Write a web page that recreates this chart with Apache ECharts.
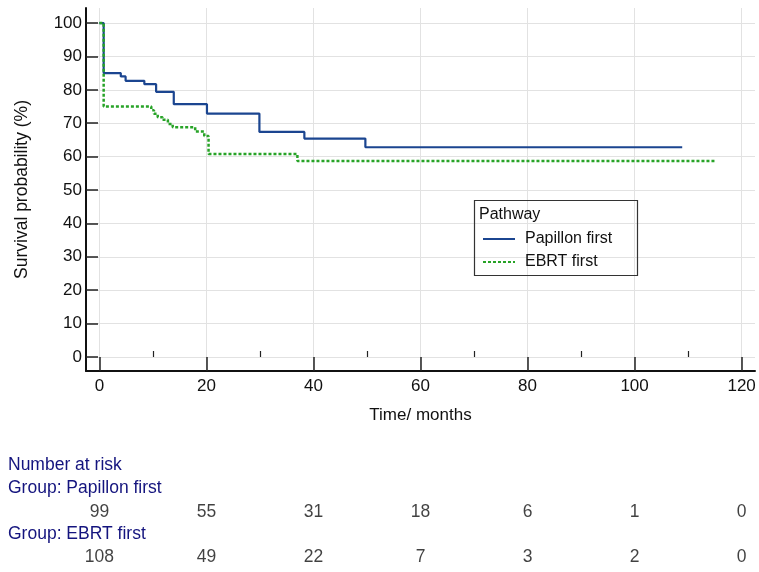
<!DOCTYPE html>
<html>
<head>
<meta charset="utf-8">
<script src="https://cdn.jsdelivr.net/npm/echarts@6/dist/echarts.min.js"></script>
<style>
html,body{margin:0;padding:0;background:#fff;}
#chart{width:759px;height:572px;}
</style>
</head>
<body>
<div id="chart"></div>
<script>
// Kaplan-Meier step points [time (months), survival (%)]
const papillonFirst = [[0,100],[0.8,85],[4,84],[4.9,82.7],[8.4,81.7],[10.6,79.4],[13.9,75.7],[20.1,72.9],[29.9,67.4],[38.3,65.4],[49.7,62.8],[108.9,62.8]];
const ebrtFirst = [[0,100],[0.8,75],[9.7,73.9],[10.2,72.8],[10.9,71.8],[11.8,71.0],[12.8,69.8],[13.7,68.8],[17.9,67.5],[19.6,66.2],[20.4,60.8],[37,58.7],[115,58.7]];
const xTicks = [0,20,40,60,80,100,120];
const xMinorTicks = [10,30,50,70,90,110];
const yTicks = [0,10,20,30,40,50,60,70,80,90,100];
const riskTimes = [0,20,40,60,80,100,120];
const riskPapillon = [99,55,31,18,6,1,0];
const riskEbrt = [108,49,22,7,3,2,0];
const groups = ['Papillon first','EBRT first'];

const FONT = 'Arial, "Liberation Sans", sans-serif';
const NAVY = '#14147e';
const BLUE = '#1b4590';
const GREEN = '#27a327';

const chart = echarts.init(document.getElementById('chart'));
chart.setOption({
  animation: false,
  backgroundColor: '#fff',
  textStyle: {fontFamily: FONT},
  grid: [
    {left: 86, right: 4, top: 8, bottom: 201},
    {left: 86, right: 4, top: 512, height: 45}
  ],
  xAxis: [
    {
      gridIndex: 0, type: 'value', min: -2.5, max: 122.5,
      name: 'Time/ months', nameLocation: 'middle', nameGap: 36,
      nameTextStyle: {fontSize: 17, color: '#111', fontFamily: FONT},
      axisLine: {onZero: false, lineStyle: {color: '#111', width: 2}},
      axisTick: {show: true, inside: true, length: 14, customValues: xTicks, lineStyle: {color: '#222', width: 1.5}},
      axisLabel: {customValues: xTicks, fontSize: 17, color: '#111', margin: 7, fontFamily: FONT},
      splitLine: {show: true, lineStyle: {color: '#e2e2e2', width: 1}}
    },
    {
      gridIndex: 0, type: 'value', min: -2.5, max: 122.5, position: 'bottom',
      axisLine: {show: false},
      axisTick: {show: true, inside: true, length: 6, customValues: xMinorTicks, lineStyle: {color: '#222', width: 1.2}},
      axisLabel: {show: false},
      splitLine: {show: false}
    },
    {
      gridIndex: 1, type: 'value', min: -2.5, max: 122.5, show: false
    }
  ],
  yAxis: [
    {
      gridIndex: 0, type: 'value', min: -4.2, max: 104.5,
      name: 'Survival probability (%)', nameLocation: 'middle', nameGap: 55,
      nameTextStyle: {fontSize: 17.5, color: '#111', fontFamily: FONT},
      axisLine: {show: true, onZero: false, lineStyle: {color: '#111', width: 2}},
      axisTick: {show: true, inside: true, length: 12, customValues: yTicks, lineStyle: {color: '#222', width: 1.5}},
      axisLabel: {customValues: yTicks, fontSize: 17, color: '#111', margin: 4, fontFamily: FONT},
      splitLine: {show: true, lineStyle: {color: '#e2e2e2', width: 1}}
    },
    {
      gridIndex: 1, type: 'value', min: 0, max: 1, inverse: true, show: false
    }
  ],
  legend: {
    left: 477, top: 226, orient: 'vertical', itemWidth: 32, itemHeight: 14, itemGap: 7,
    itemStyle: {opacity: 0},
    textStyle: {fontSize: 16, color: '#111', fontFamily: FONT, padding: [0,0,0,5]},
    data: ['Papillon first','EBRT first']
  },
  graphic: [
    {type: 'rect', left: 472, top: 198, shape: {width: 163, height: 75}, style: {fill: 'none', stroke: '#333', lineWidth: 1.2}, z: 10},
    {type: 'text', left: 479, top: 207, style: {text: 'Pathway', fontSize: 16, fill: '#111', fontFamily: FONT}, z: 10},
    {type: 'text', left: 8, top: 456, style: {text: 'Number at risk', fontSize: 17.5, fill: NAVY, fontFamily: FONT}},
    {type: 'text', left: 8, top: 479, style: {text: 'Group: Papillon first', fontSize: 17.5, fill: NAVY, fontFamily: FONT}},
    {type: 'text', left: 8, top: 525, style: {text: 'Group: EBRT first', fontSize: 17.5, fill: NAVY, fontFamily: FONT}}
  ],
  series: [
    {
      name: 'Papillon first', type: 'line', step: 'end', xAxisIndex: 0, yAxisIndex: 0,
      data: papillonFirst, symbol: 'none', lineStyle: {color: BLUE, width: 2.2}, itemStyle: {color: BLUE}, z: 3
    },
    {
      name: 'EBRT first', type: 'line', step: 'end', xAxisIndex: 0, yAxisIndex: 0,
      data: ebrtFirst, symbol: 'none', lineStyle: {color: GREEN, width: 2.5, type: [3,2]}, itemStyle: {color: GREEN}, z: 4
    },
    {
      name: 'risk-papillon', type: 'scatter', xAxisIndex: 2, yAxisIndex: 1,
      data: riskTimes.map((t,i) => [t, 0, riskPapillon[i]]),
      symbolSize: 1, itemStyle: {color: 'rgba(0,0,0,0)'},
      label: {show: true, position: 'inside', formatter: p => String(p.value[2]), fontSize: 17.5, color: '#111', fontFamily: FONT}
    },
    {
      name: 'risk-ebrt', type: 'scatter', xAxisIndex: 2, yAxisIndex: 1,
      data: riskTimes.map((t,i) => [t, 1, riskEbrt[i]]),
      symbolSize: 1, itemStyle: {color: 'rgba(0,0,0,0)'},
      label: {show: true, position: 'inside', formatter: p => String(p.value[2]), fontSize: 17.5, color: '#111', fontFamily: FONT}
    }
  ]
});
</script>
</body>
</html>
